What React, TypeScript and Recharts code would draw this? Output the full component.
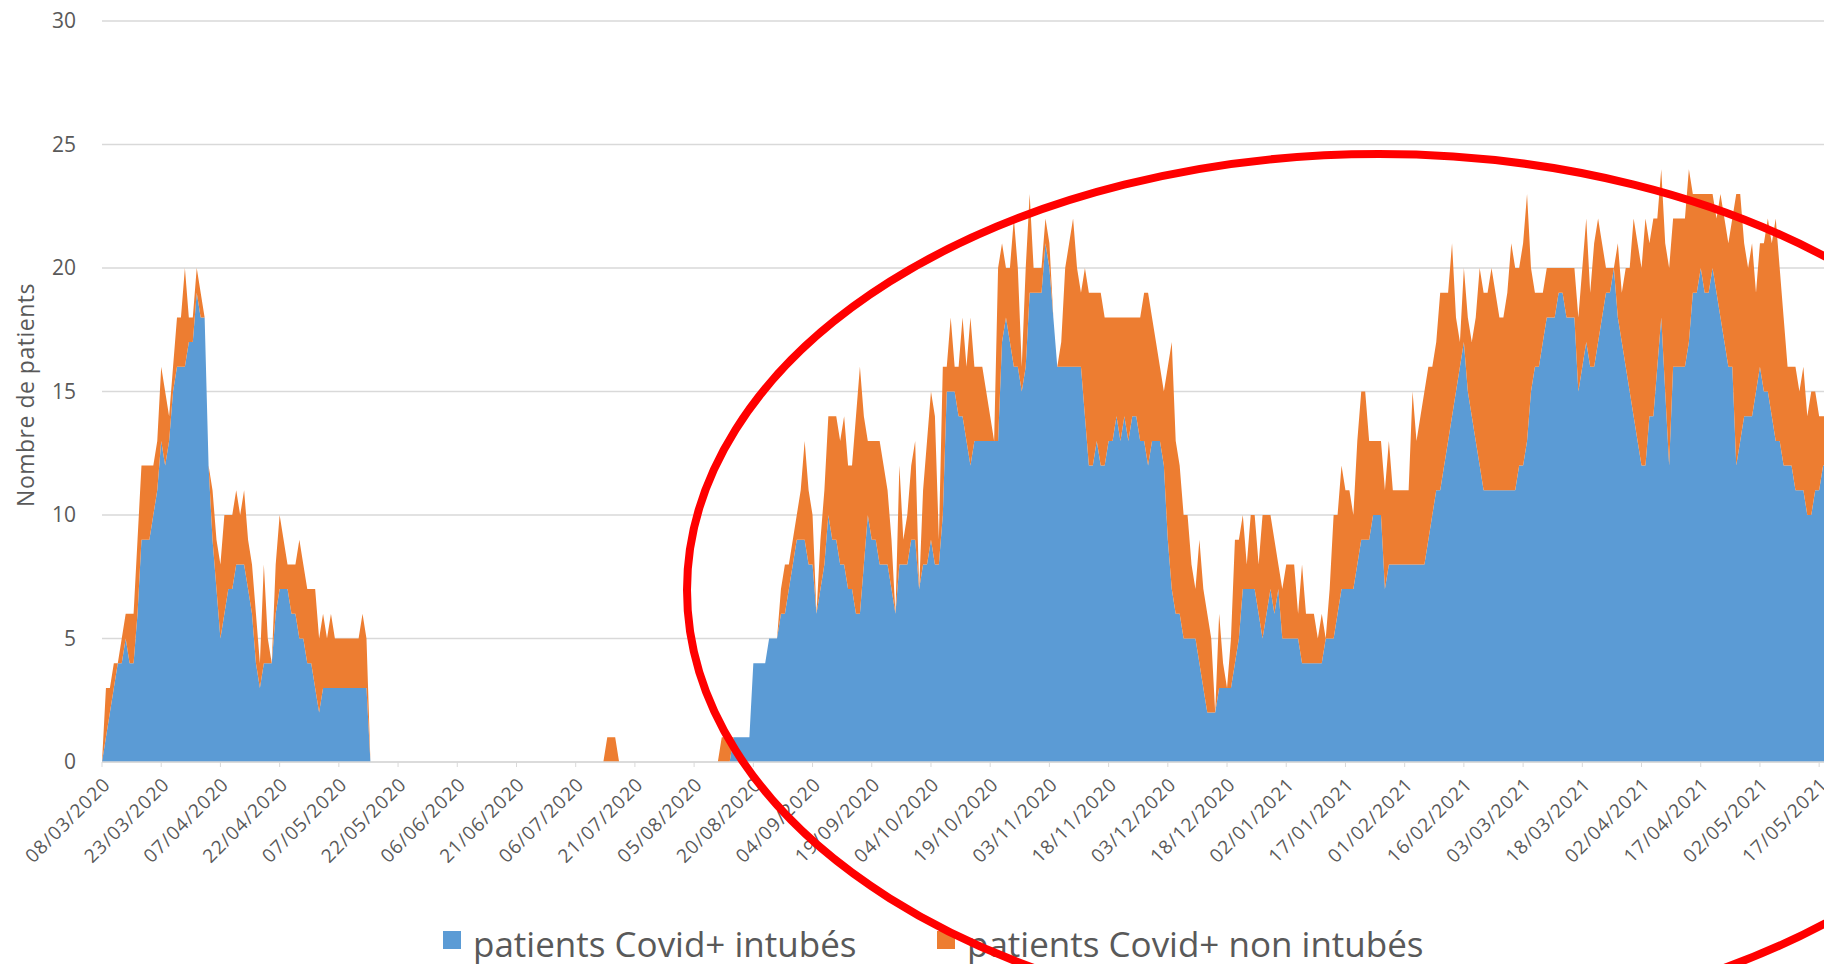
import React from "react";
import { Area, AreaChart, CartesianGrid, Legend, XAxis, YAxis } from "recharts";

const BLUE = "#5B9BD5";
const ORANGE = "#ED7D31";
const GRID = "#D9D9D9";
const TEXT = "#595959";
const FONT = "'Open Sans', 'DejaVu Sans', sans-serif";

const W = 1824;
const H = 956;

// daily counts from 08/03/2020, one value per day
const INTUBATED = [
  0, 1, 2, 3, 4, 4, 5, 4, 4, 6,
  9, 9, 9, 10, 11, 13, 12, 13, 15, 16,
  16, 16, 17, 17, 19, 18, 18, 12, 9, 7,
  5, 6, 7, 7, 8, 8, 8, 7, 6, 4,
  3, 4, 4, 4, 6, 7, 7, 7, 6, 6,
  5, 5, 4, 4, 3, 2, 3, 3, 3, 3,
  3, 3, 3, 3, 3, 3, 3, 3, 0, 0,
  0, 0, 0, 0, 0, 0, 0, 0, 0, 0,
  0, 0, 0, 0, 0, 0, 0, 0, 0, 0,
  0, 0, 0, 0, 0, 0, 0, 0, 0, 0,
  0, 0, 0, 0, 0, 0, 0, 0, 0, 0,
  0, 0, 0, 0, 0, 0, 0, 0, 0, 0,
  0, 0, 0, 0, 0, 0, 0, 0, 0, 0,
  0, 0, 0, 0, 0, 0, 0, 0, 0, 0,
  0, 0, 0, 0, 0, 0, 0, 0, 0, 0,
  0, 0, 0, 0, 0, 0, 0, 0, 0, 0,
  1, 1, 1, 1, 1, 4, 4, 4, 4, 5,
  5, 5, 6, 6, 7, 8, 9, 9, 9, 8,
  8, 6, 7, 8, 10, 9, 9, 8, 8, 7,
  7, 6, 6, 8, 10, 9, 9, 8, 8, 8,
  7, 6, 8, 8, 8, 9, 9, 7, 8, 8,
  9, 8, 8, 10, 15, 15, 15, 14, 14, 13,
  12, 13, 13, 13, 13, 13, 13, 13, 17, 18,
  17, 16, 16, 15, 16, 19, 19, 19, 19, 21,
  20, 18, 16, 16, 16, 16, 16, 16, 16, 14,
  12, 12, 13, 12, 12, 13, 13, 14, 13, 14,
  13, 14, 14, 13, 13, 12, 13, 13, 13, 12,
  9, 7, 6, 6, 5, 5, 5, 5, 4, 3,
  2, 2, 2, 3, 3, 3, 3, 4, 5, 7,
  7, 7, 7, 6, 5, 6, 7, 6, 7, 5,
  5, 5, 5, 5, 4, 4, 4, 4, 4, 4,
  5, 5, 5, 6, 7, 7, 7, 7, 8, 9,
  9, 9, 10, 10, 10, 7, 8, 8, 8, 8,
  8, 8, 8, 8, 8, 8, 9, 10, 11, 11,
  12, 13, 14, 15, 16, 17, 15, 14, 13, 12,
  11, 11, 11, 11, 11, 11, 11, 11, 11, 12,
  12, 13, 15, 16, 16, 17, 18, 18, 18, 19,
  19, 18, 18, 18, 15, 16, 17, 16, 16, 17,
  18, 19, 19, 20, 18, 17, 16, 15, 14, 13,
  12, 12, 14, 14, 16, 18, 15, 12, 16, 16,
  16, 16, 17, 19, 19, 20, 19, 19, 20, 19,
  18, 17, 16, 16, 12, 13, 14, 14, 14, 15,
  16, 15, 15, 14, 13, 13, 12, 12, 12, 11,
  11, 11, 10, 10, 11, 11, 12, 12, 11,
];

const NON_INTUBATED = [
  0, 2, 1, 1, 0, 1, 1, 2, 2, 3,
  3, 3, 3, 2, 2, 3, 3, 1, 1, 2,
  2, 4, 1, 1, 1, 1, 0, 0, 2, 2,
  3, 4, 3, 3, 3, 2, 3, 2, 2, 2,
  1, 4, 1, 0, 2, 3, 2, 1, 2, 2,
  4, 3, 3, 3, 4, 3, 3, 2, 3, 2,
  2, 2, 2, 2, 2, 2, 3, 2, 0, 0,
  0, 0, 0, 0, 0, 0, 0, 0, 0, 0,
  0, 0, 0, 0, 0, 0, 0, 0, 0, 0,
  0, 0, 0, 0, 0, 0, 0, 0, 0, 0,
  0, 0, 0, 0, 0, 0, 0, 0, 0, 0,
  0, 0, 0, 0, 0, 0, 0, 0, 0, 0,
  0, 0, 0, 0, 0, 0, 0, 0, 1, 1,
  1, 0, 0, 0, 0, 0, 0, 0, 0, 0,
  0, 0, 0, 0, 0, 0, 0, 0, 0, 0,
  0, 0, 0, 0, 0, 0, 0, 1, 1, 1,
  0, 0, 0, 0, 0, 0, 0, 0, 0, 0,
  0, 0, 1, 2, 1, 1, 1, 2, 4, 3,
  2, 0, 2, 3, 4, 5, 5, 5, 6, 5,
  5, 8, 10, 6, 3, 4, 4, 5, 4, 3,
  2, 0, 4, 1, 2, 3, 4, 0, 3, 5,
  6, 6, 1, 6, 1, 3, 1, 2, 4, 3,
  6, 3, 3, 3, 2, 1, 0, 7, 4, 2,
  3, 6, 4, 1, 4, 4, 1, 1, 1, 1,
  1, 0, 0, 1, 4, 5, 6, 4, 3, 6,
  7, 7, 6, 7, 6, 5, 5, 4, 5, 4,
  5, 4, 4, 5, 6, 7, 5, 4, 3, 3,
  7, 10, 7, 6, 5, 5, 3, 2, 5, 4,
  4, 3, 0, 3, 1, 0, 2, 5, 4, 3,
  1, 3, 3, 2, 5, 4, 3, 3, 1, 2,
  3, 3, 3, 1, 4, 2, 2, 2, 1, 2,
  0, 2, 5, 4, 5, 4, 4, 3, 5, 6,
  6, 4, 3, 3, 3, 4, 5, 3, 3, 3,
  3, 3, 7, 5, 6, 7, 7, 6, 6, 8,
  7, 6, 7, 3, 1, 3, 3, 3, 5, 8,
  8, 8, 9, 8, 7, 7, 8, 10, 9, 8,
  9, 10, 5, 3, 3, 2, 2, 2, 2, 1,
  1, 2, 2, 2, 3, 4, 5, 3, 5, 5,
  3, 1, 1, 0, 3, 2, 4, 5, 8, 8,
  8, 10, 7, 8, 6, 6, 6, 8, 6, 6,
  6, 6, 7, 4, 4, 3, 4, 4, 3, 3,
  5, 5, 5, 6, 11, 10, 7, 6, 7, 4,
  5, 6, 7, 7, 9, 7, 6, 4, 4, 5,
  4, 5, 4, 5, 4, 3, 2, 2, 3,
];

const TICK_LABELS = [
  "08/03/2020", "23/03/2020", "07/04/2020", "22/04/2020", "07/05/2020", "22/05/2020",
  "06/06/2020", "21/06/2020", "06/07/2020", "21/07/2020", "05/08/2020", "20/08/2020",
  "04/09/2020", "19/09/2020", "04/10/2020", "19/10/2020", "03/11/2020", "18/11/2020",
  "03/12/2020", "18/12/2020", "02/01/2021", "17/01/2021", "01/02/2021", "16/02/2021",
  "03/03/2021", "18/03/2021", "02/04/2021", "17/04/2021", "02/05/2021", "17/05/2021",
];

const Y_TICKS = [0, 5, 10, 15, 20, 25, 30];

const SERIES_NAMES = ["patients Covid+ intubés", "patients Covid+ non intubés"];

function dayLabel(i: number) {
  const d = new Date(Date.UTC(2020, 2, 8 + i));
  const dd = String(d.getUTCDate()).padStart(2, "0");
  const mm = String(d.getUTCMonth() + 1).padStart(2, "0");
  return `${dd}/${mm}/${d.getUTCFullYear()}`;
}

function DateTick(props: any) {
  const { x, y, payload } = props;
  return (
    <text
      x={x}
      y={y}
      dy="0.71em"
      textAnchor="end"
      transform={`rotate(-45 ${x} ${y})`}
      fill={TEXT}
      fontSize={19}
      letterSpacing={1}
      fontFamily={FONT}
    >
      {payload.value}
    </text>
  );
}

function LegendBox() {
  const txt: React.CSSProperties = {
    position: "absolute",
    top: 0,
    lineHeight: "40px",
    fontSize: 35,
    color: TEXT,
    whiteSpace: "nowrap",
  };
  const sq: React.CSSProperties = { position: "absolute", top: 7, width: 18, height: 18 };
  return (
    <div style={{ position: "relative", width: W, height: 40, fontFamily: FONT }}>
      <span style={{ ...sq, left: 435, background: BLUE }} />
      <span style={{ ...txt, left: 465 }}>{SERIES_NAMES[0]}</span>
      <span style={{ ...sq, left: 929, background: ORANGE }} />
      <span style={{ ...txt, left: 959 }}>{SERIES_NAMES[1]}</span>
    </div>
  );
}

export default function App() {
  const data = INTUBATED.map((v, i) => ({
    date: dayLabel(i),
    intubes: v,
    nonIntubes: NON_INTUBATED[i],
  }));

  return (
    <div style={{ position: "relative", width: W, height: H, fontFamily: FONT }}>
      <AreaChart width={W} height={H} data={data} margin={{ top: 13, right: 1, bottom: 0, left: 34 }}>
        <CartesianGrid vertical={false} stroke={GRID} strokeWidth={1.5} />
        <XAxis
          dataKey="date"
          ticks={TICK_LABELS}
          interval={0}
          height={162}
          tick={<DateTick />}
          tickSize={5}
          tickMargin={9}
          tickLine={{ stroke: GRID }}
          axisLine={{ stroke: GRID, strokeWidth: 1.5 }}
        />
        <YAxis
          domain={[0, 30]}
          ticks={Y_TICKS}
          width={60}
          axisLine={false}
          tickLine={false}
          tickMargin={20}
          tick={{ fill: TEXT, fontSize: 21, fontFamily: FONT }}
        />
        <Area
          type="linear"
          dataKey="intubes"
          name={SERIES_NAMES[0]}
          stackId="1"
          stroke="none"
          fill={BLUE}
          fillOpacity={1}
          isAnimationActive={false}
        />
        <Area
          type="linear"
          dataKey="nonIntubes"
          name={SERIES_NAMES[1]}
          stackId="1"
          stroke="none"
          fill={ORANGE}
          fillOpacity={1}
          isAnimationActive={false}
        />
        <Legend content={() => <LegendBox />} wrapperStyle={{ left: 0, top: 916, width: W, height: 40 }} />
      </AreaChart>
      <svg
        width={W}
        height={H}
        style={{ position: "absolute", left: 0, top: 0, pointerEvents: "none" }}
      >
        <text
          x={17}
          y={387}
          transform="rotate(-90 17 387)"
          textAnchor="middle"
          dominantBaseline="central"
          fill={TEXT}
          fontSize={23}
          letterSpacing={0.5}
          fontFamily={FONT}
        >
          Nombre de patients
        </text>
        <ellipse cx={1371} cy={582} rx={692} ry={436} fill="none" stroke="#FF0000" strokeWidth={8} />
      </svg>
    </div>
  );
}
